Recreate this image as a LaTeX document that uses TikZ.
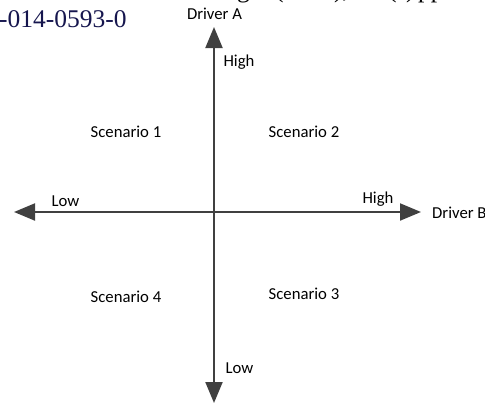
\documentclass[tikz,border=0pt]{standalone}
\usepackage{fontspec}
\setmainfont{Carlito}
\newfontfamily\serifref{Liberation Serif}
\usetikzlibrary{arrows.meta}
\definecolor{axisgray}{RGB}{64,64,64}
\definecolor{navyref}{RGB}{22,22,78}
\begin{document}
\begin{tikzpicture}[x=1pt,y=-1pt,
  axisline/.style={draw=axisgray, line width=2pt,
    {Triangle[length=21pt,width=17pt]}-{Triangle[length=21pt,width=17pt]}},
  lbl/.style={font=\fontsize{16.7}{20}\selectfont, text=black, inner sep=0pt},
  reftext/.style={font=\serifref\fontsize{25.5}{30}\selectfont, inner sep=0pt, anchor=base west},
]
\useasboundingbox (0,0) rectangle (485,405);
% axes end points
\coordinate (top) at (214,27);
\coordinate (bot) at (214,403);
\coordinate (lft) at (14,212);
\coordinate (rgt) at (421,212);
\draw[axisline] (bot) -- (top);
\draw[axisline] (lft) -- (rgt);
% labels
\node[lbl] (drA) at (214.5,14) {Driver A};
\node[lbl] (hiA) at (239,62) {High};
\node[lbl] (loA) at (239.5,368) {Low};
\node[lbl] (loB) at (65.5,201) {Low};
\node[lbl] (hiB) at (378,199) {High};
\node[lbl, anchor=west] (drB) at (432,213) {Driver B};
\node[lbl] (s1) at (126,132) {Scenario 1};
\node[lbl] (s2) at (304,132) {Scenario 2};
\node[lbl] (s3) at (304,294) {Scenario 3};
\node[lbl] (s4) at (126,297) {Scenario 4};
% fragments of the surrounding page
\node[reftext, text=navyref] (doi) at (-1,27) {-014-0593-0};
\node[reftext] (f1) at (237,-2.5) {g};
\node[reftext] (f2) at (275,-2.5) {(};
\node[reftext] (f3) at (334,-2.5) {),};
\node[reftext] (f4) at (388,-2.5) {(};
\node[reftext] (f5) at (406,-2.5) {)};
\node[reftext] (f6) at (418,-2.5) {pp};
\end{tikzpicture}
\end{document}
